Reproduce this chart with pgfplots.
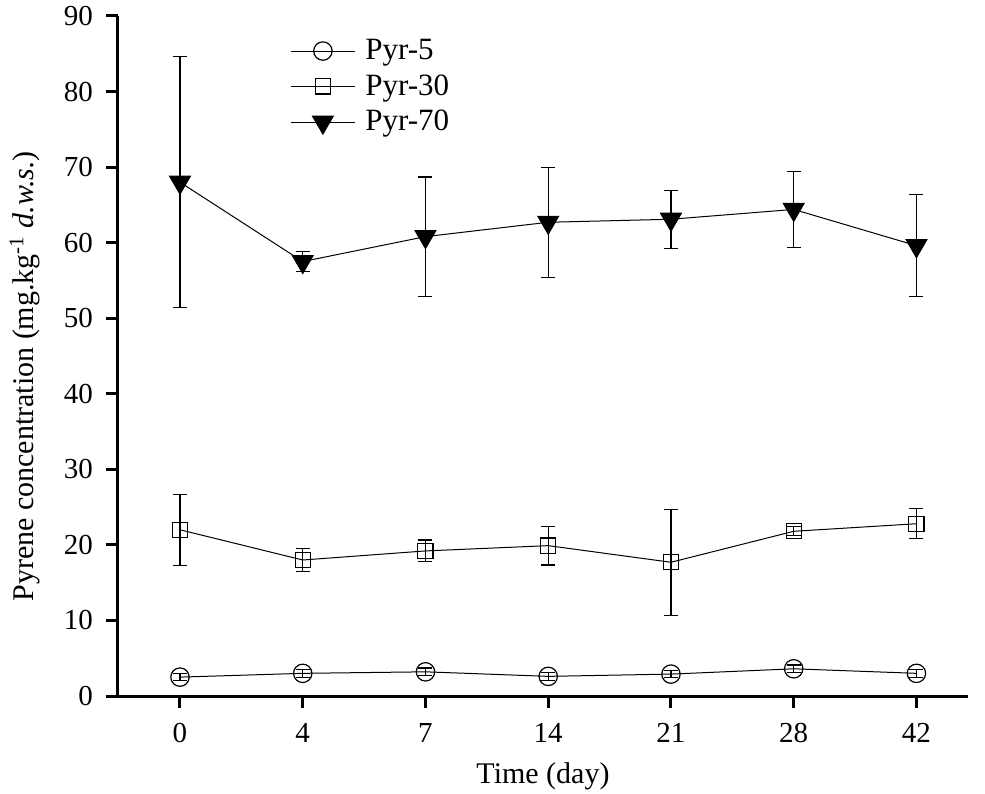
\documentclass[border=0pt]{standalone}
\usepackage{fontspec}
\setmainfont{Liberation Serif}
\usepackage{pgfplots}
\pgfplotsset{compat=1.18}
\begin{document}
\begin{tikzpicture}
\begin{axis}[
  at={(0,0)}, anchor=south west,
  scale only axis, width=425pt, height=340pt,
  axis lines=left,
  axis line style={-, line width=1.5pt},
  tick style={line width=1.5pt, black},
  tick align=outside,
  major tick length=6pt,
  xmin=-0.505, xmax=6.42,
  ymin=0, ymax=90,
  xtick={0,1,2,3,4,5,6},
  xticklabels={0,4,7,14,21,28,42},
  ytick={0,10,...,90},
  /pgf/number format/assume math mode=true,
  tick label style={font=\fontsize{14.5}{17}\selectfont},
  xticklabel style={yshift=-4pt},
  yticklabel style={xshift=-3pt},
  label style={font=\fontsize{15}{18}\selectfont},
  xlabel={Time (day)},
  xlabel style={yshift=-3pt},
  ylabel={Pyrene concentration (mg.kg\textsuperscript{-1} \textit{d.w.s.})},
  ylabel style={at={(ticklabel cs:0.47)}, yshift=5pt},
  legend style={draw=none, fill=none, at={(0.2,0.975)}, anchor=north west,
    font=\fontsize{15.5}{18}\selectfont, row sep=2pt, column sep=3pt, inner sep=1pt},
  legend cell align=left,
  legend image code/.code={\draw[mark repeat=2,mark phase=2] plot coordinates {(0pt,0pt) (16pt,0pt) (32pt,0pt)};},
  every axis plot/.append style={line width=0.5pt, black},
]
\addplot[mark=o, mark size=4.6pt, mark options={fill=none, line width=0.6pt},
  error bars/.cd, y dir=both, y explicit,
  error mark options={rotate=90, mark size=3.5pt, line width=0.6pt},
  error bar style={line width=0.6pt}]
  coordinates {(0,2.5) +- (0,0.5) (1,3.0) +- (0,0.5) (2,3.2) +- (0,0.5) (3,2.6) +- (0,0.5) (4,2.9) +- (0,0.5) (5,3.6) +- (0,0.5) (6,3.0) +- (0,0.5)};
\addlegendentry{Pyr-5}
\addplot[mark=square, mark size=3.8pt, mark options={fill=none, line width=0.6pt},
  error bars/.cd, y dir=both, y explicit,
  error mark options={rotate=90, mark size=3.5pt, line width=0.6pt},
  error bar style={line width=0.6pt}]
  coordinates {(0,22.0) +- (0,4.7) (1,18.0) +- (0,1.5) (2,19.2) +- (0,1.45) (3,19.9) +- (0,2.55) (4,17.7) +- (0,7.0) (5,21.8) +- (0,0.6) (6,22.8) +- (0,2.0)};
\addlegendentry{Pyr-30}
\addplot[mark=triangle*, mark size=6pt, mark options={rotate=180, fill=black},
  error bars/.cd, y dir=both, y explicit,
  error mark options={rotate=90, mark size=3.5pt, line width=0.6pt},
  error bar style={line width=0.6pt}]
  coordinates {(0,68.0) +- (0,16.6) (1,57.5) +- (0,1.3) (2,60.8) +- (0,7.9) (3,62.7) +- (0,7.3) (4,63.1) +- (0,3.85) (5,64.4) +- (0,5.0) (6,59.6) +- (0,6.75)};
\addlegendentry{Pyr-70}
\end{axis}
\pgfresetboundingbox
\path (-59pt,-48.5pt) rectangle (433.5pt,348pt);
\end{tikzpicture}
\end{document}
